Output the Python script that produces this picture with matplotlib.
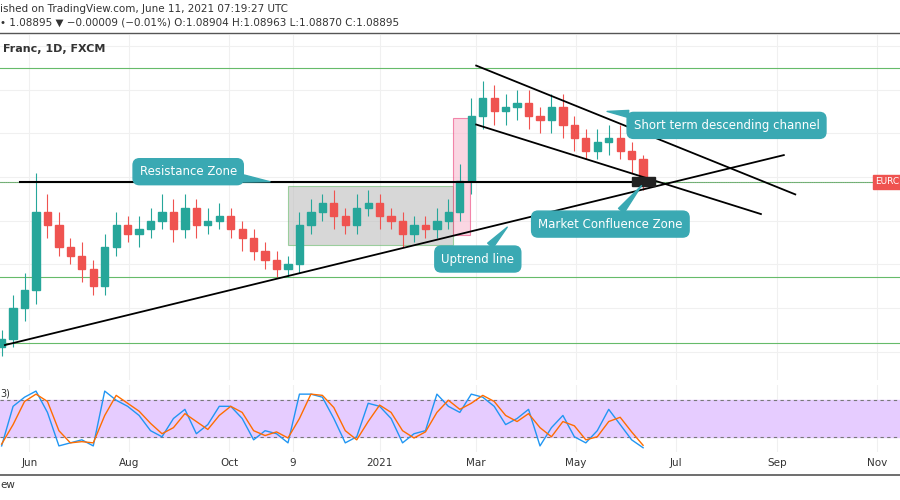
import matplotlib
matplotlib.use("Agg")
import matplotlib.pyplot as plt
import matplotlib.dates as mdates
from matplotlib.patches import Rectangle
import pandas as pd
import numpy as np

dates = pd.date_range("2020-05-15", "2021-06-11", freq="7D")
closes = [1.0530,1.0600,1.0640,1.0820,1.0790,1.0740,1.0720,1.0690,1.0650,1.0740,
          1.0790,1.0770,1.0780,1.0800,1.0820,1.0780,1.0830,1.0790,1.0800,1.0810,
          1.0780,1.0760,1.0730,1.0710,1.0690,1.0700,1.0790,1.0820,1.0840,1.0810,
          1.0790,1.0830,1.0840,1.0810,1.0800,1.0770,1.0790,1.0780,1.0800,1.0820,
          1.0890,1.1040,1.1080,1.1050,1.1060,1.1070,1.1040,1.1030,1.1060,1.1020,
          1.0990,1.0960,1.0980,1.0990,1.0960,1.0940,1.0890]
opens = [1.0510] + closes[:-1]
wick_hi = [0.002,0.003,0.004,0.009,0.004,0.003,0.002,0.003,0.002,0.003,
           0.003,0.002,0.003,0.003,0.004,0.003,0.003,0.002,0.003,0.003,
           0.002,0.002,0.002,0.002,0.002,0.002,0.003,0.003,0.002,0.003,
           0.002,0.003,0.003,0.002,0.002,0.002,0.002,0.002,0.003,0.003,
           0.004,0.004,0.004,0.003,0.003,0.003,0.003,0.002,0.003,0.003,
           0.002,0.002,0.003,0.003,0.003,0.002,0.001]
wick_lo = [0.002,0.002,0.003,0.003,0.003,0.002,0.002,0.003,0.002,0.002,
           0.002,0.002,0.003,0.002,0.002,0.003,0.002,0.003,0.002,0.002,
           0.002,0.003,0.002,0.002,0.002,0.002,0.002,0.002,0.002,0.003,
           0.002,0.002,0.002,0.003,0.002,0.003,0.002,0.002,0.002,0.002,
           0.002,0.003,0.003,0.003,0.003,0.003,0.003,0.003,0.003,0.003,
           0.003,0.002,0.002,0.003,0.002,0.003,0.002]
stoch_k = [5,70,85,95,60,5,10,15,5,95,80,70,55,30,20,50,65,25,40,70,
           70,50,15,30,25,10,90,90,85,50,10,20,75,70,50,10,25,30,90,70,
           60,90,85,70,40,50,65,5,35,55,20,10,30,65,40,15,2]
stoch_d = [8,40,78,90,78,30,10,12,10,55,88,75,62,42,25,35,58,45,32,55,
           70,60,30,22,28,18,50,90,88,68,30,15,45,72,60,30,18,28,60,80,
           65,75,88,78,55,45,58,35,20,45,38,15,20,45,52,28,6]
tick_dates = ["2020-06-01","2020-08-01","2020-10-01","2020-11-09","2021-01-01",
              "2021-03-01","2021-05-01","2021-07-01","2021-09-01","2021-11-01"]
tick_labels = ["Jun","Aug","Oct","9","2021","Mar","May","Jul","Sep","Nov"]
resistance = 1.0889
green_levels = [1.1150, 1.0889, 1.0670, 1.0520]

fig = plt.figure(figsize=(9, 5), dpi=100)
ax = fig.add_axes([0, 0.24, 1, 0.69])
ax2 = fig.add_axes([0, 0.096, 1, 0.134], sharex=ax)
x0, x1 = mdates.date2num(pd.Timestamp("2020-05-14")), mdates.date2num(pd.Timestamp("2021-11-15"))
ax.set_xlim(x0, x1)
ax.set_ylim(1.0435, 1.1225)
xd = mdates.date2num(dates)
tks = mdates.date2num(pd.to_datetime(tick_dates))
for a in (ax, ax2):
    for s in a.spines.values():
        s.set_visible(False)
    a.tick_params(left=False, labelleft=False, bottom=False, labelbottom=False)
    for t in tks:
        a.axvline(t, color="#f0f0f0", lw=0.8, zorder=0)
for yv in np.arange(1.05, 1.12, 0.01):
    ax.axhline(yv, color="#f0f0f0", lw=0.8, zorder=0)

up, dn = "#26a69a", "#ef5350"
for d, o, c, h, l in zip(xd, opens, closes, wick_hi, wick_lo):
    col = up if c >= o else dn
    ax.vlines(d, min(o, c) - l, max(o, c) + h, color=col, lw=0.8, zorder=3)
    ax.add_patch(Rectangle((d - 2.2, min(o, c)), 4.4, max(abs(c - o), 0.0004), color=col, zorder=3))

for g in green_levels:
    ax.axhline(g, color="#66bb6a", lw=0.8, zorder=1)
ax.axhline(resistance, color="#999999", lw=0.6, ls=":", zorder=1)

def dn_(s):
    return mdates.date2num(pd.Timestamp(s))
ax.add_patch(Rectangle((dn_("2020-11-06"), 1.0744), dn_("2021-02-15") - dn_("2020-11-06"), 1.0880 - 1.0744,
                       facecolor="#bdbdbd", alpha=0.6, edgecolor="#66bb6a", lw=0.8, zorder=2))
ax.add_patch(Rectangle((dn_("2021-02-15"), 1.0768), dn_("2021-02-25") - dn_("2021-02-15"), 1.1036 - 1.0768,
                       facecolor="#f8bbd0", alpha=0.6, edgecolor="#ec407a", lw=0.8, zorder=2))
ax.plot([dn_("2020-05-26"), dn_("2021-06-18")], [resistance, resistance], color="black", lw=1.5, zorder=4)
ax.plot([dn_("2020-05-17"), dn_("2021-09-05")], [1.0515, 1.0950], color="black", lw=1.3, zorder=4)
ax.plot([dn_("2021-03-01"), dn_("2021-09-12")], [1.1155, 1.0860], color="black", lw=1.3, zorder=4)
ax.plot([dn_("2021-03-01"), dn_("2021-08-22")], [1.1020, 1.0815], color="black", lw=1.3, zorder=4)
ax.add_patch(Rectangle((dn_("2021-06-04"), 1.0879), 14, 0.0020, color="#222222", zorder=5))

teal = "#3aa9b3"
def callout(x, y, text, tip):
    ax.annotate(text, xy=tip, xytext=(x, y), xycoords="data", textcoords="data",
                color="white", fontsize=8.5, ha="center", va="center", zorder=7,
                bbox=dict(boxstyle="round,pad=0.55", fc=teal, ec=teal),
                arrowprops=dict(arrowstyle="wedge,tail_width=0.6", fc=teal, ec=teal, shrinkA=0, shrinkB=0))
callout(dn_("2020-09-06"), 1.0912, "Resistance Zone", (dn_("2020-10-26"), resistance))
callout(dn_("2021-08-01"), 1.1018, "Short term descending channel", (dn_("2021-05-20"), 1.1050))
callout(dn_("2021-05-22"), 1.0792, "Market Confluence Zone", (dn_("2021-06-10"), 1.0880))
callout(dn_("2021-03-02"), 1.0712, "Uptrend line", (dn_("2021-03-20"), 1.0785))

ax.text(dn_("2021-10-31"), resistance, "EURC", fontsize=6.5, color="white", va="center",
        bbox=dict(boxstyle="square,pad=0.3", fc="#ef5350", ec="#ef5350"), zorder=8)
ax.text(0.003, 0.975, "Franc, 1D, FXCM", transform=ax.transAxes, fontsize=8, weight="bold", color="#333333", va="top")

ax2.set_ylim(-5, 105)
ax2.axhspan(20, 80, color="#e6ccff", zorder=0)
ax2.axhline(80, color="#777777", ls=(0, (3, 3)), lw=0.8)
ax2.axhline(20, color="#777777", ls=(0, (3, 3)), lw=0.8)
ax2.plot(xd, stoch_k, color="#2196f3", lw=1.0, zorder=3)
ax2.plot(xd, stoch_d, color="#ff6d00", lw=1.0, zorder=3)
ax2.text(0.0, 0.95, "3)", transform=ax2.transAxes, fontsize=7, color="#333333", va="top")

for t, lab in zip(tks, tick_labels):
    fig.text((t - x0) / (x1 - x0), 0.075, lab, ha="center", va="center", fontsize=7.5, color="#333333")
fig.add_artist(plt.Line2D([0, 1], [0.05, 0.05], color="#555555", lw=1.2))
fig.add_artist(plt.Line2D([0, 1], [0.935, 0.935], color="#555555", lw=1.0))
fig.text(0.0, 0.983, "ished on TradingView.com, June 11, 2021 07:19:27 UTC", fontsize=7.5, color="#333333", va="center")
fig.text(0.0, 0.955, "\u2022 1.08895 \u25bc \u22120.00009 (\u22120.01%) O:1.08904 H:1.08963 L:1.08870 C:1.08895",
         fontsize=7.5, color="#333333", va="center")
fig.text(0.0, 0.03, "ew", fontsize=7.5, color="#333333", va="center")
fig.savefig("out.png", dpi=100, facecolor="white")
